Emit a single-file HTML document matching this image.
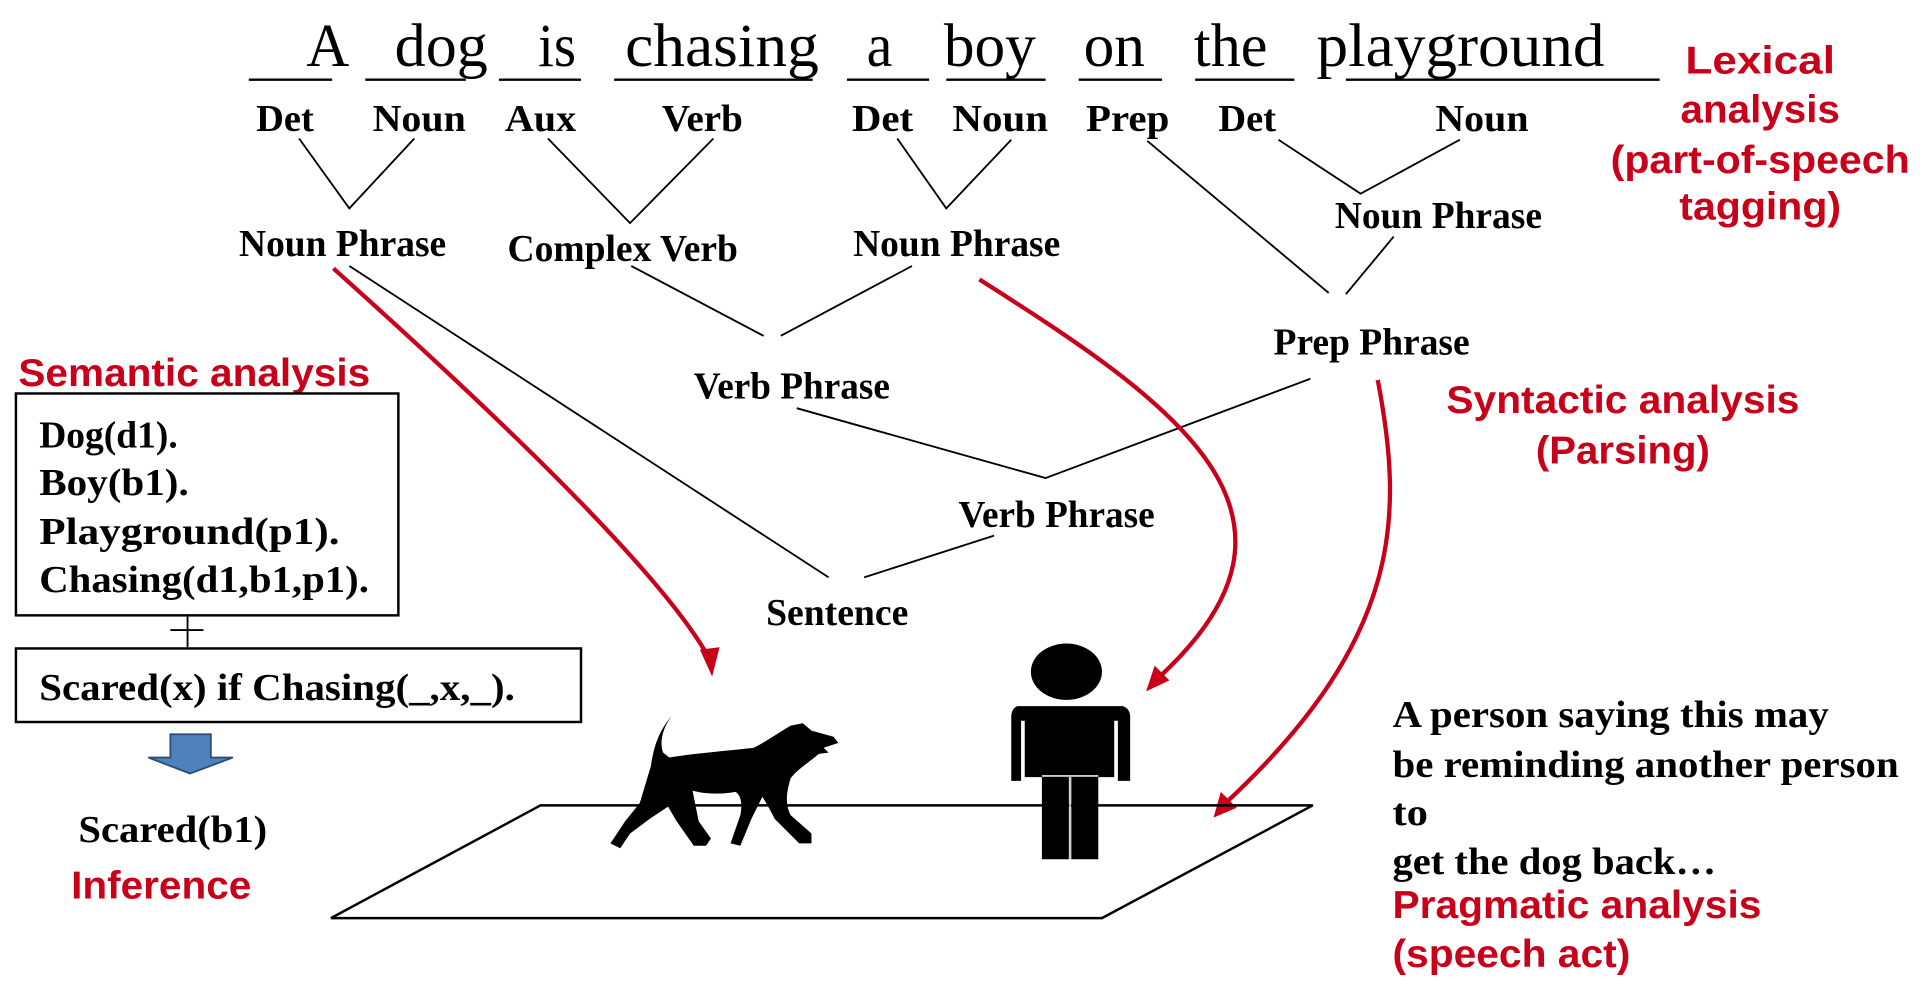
<!DOCTYPE html>
<html><head><meta charset="utf-8"><style>
html,body{margin:0;padding:0;background:#fff;}
svg{display:block;}
.w{font-family:"Liberation Serif",serif;font-size:50px;fill:#000;}
.t{font-family:"Liberation Serif",serif;font-size:31px;font-weight:bold;fill:#000;}
.r{font-family:"Liberation Sans",sans-serif;font-size:32px;font-weight:bold;fill:#c8001a;}
</style></head><body>
<svg width="1922" height="988" viewBox="0 0 1568 806" preserveAspectRatio="none" xmlns="http://www.w3.org/2000/svg">
<rect width="1568" height="806" fill="#fff"/>
<g class="w">
<text x="250" y="54" textLength="35" lengthAdjust="spacingAndGlyphs">A</text>
<text x="322" y="54" textLength="76" lengthAdjust="spacingAndGlyphs">dog</text>
<text x="439" y="54" textLength="31" lengthAdjust="spacingAndGlyphs">is</text>
<text x="510" y="54" textLength="158" lengthAdjust="spacingAndGlyphs">chasing</text>
<text x="707" y="54" textLength="21" lengthAdjust="spacingAndGlyphs">a</text>
<text x="770" y="54" textLength="75" lengthAdjust="spacingAndGlyphs">boy</text>
<text x="884" y="54" textLength="50" lengthAdjust="spacingAndGlyphs">on</text>
<text x="974" y="54" textLength="60" lengthAdjust="spacingAndGlyphs">the</text>
<text x="1074" y="54" textLength="235" lengthAdjust="spacingAndGlyphs">playground</text>
</g>
<g stroke="#000" stroke-width="2">
<line x1="203" y1="65" x2="271" y2="65"/><line x1="298" y1="65" x2="380" y2="65"/>
<line x1="407" y1="65" x2="474" y2="65"/><line x1="501" y1="65" x2="663" y2="65"/>
<line x1="691" y1="65" x2="758" y2="65"/><line x1="772" y1="65" x2="853" y2="65"/>
<line x1="880" y1="65" x2="948" y2="65"/><line x1="975" y1="65" x2="1056" y2="65"/>
<line x1="1098" y1="65" x2="1354" y2="65"/>
</g>
<g class="t">
<text x="209" y="107" textLength="47" lengthAdjust="spacingAndGlyphs">Det</text><text x="304" y="107" textLength="76" lengthAdjust="spacingAndGlyphs">Noun</text>
<text x="412" y="107" textLength="58" lengthAdjust="spacingAndGlyphs">Aux</text><text x="540" y="107" textLength="66" lengthAdjust="spacingAndGlyphs">Verb</text>
<text x="695" y="107" textLength="50" lengthAdjust="spacingAndGlyphs">Det</text><text x="777" y="107" textLength="78" lengthAdjust="spacingAndGlyphs">Noun</text>
<text x="886" y="107" textLength="68" lengthAdjust="spacingAndGlyphs">Prep</text><text x="994" y="107" textLength="47" lengthAdjust="spacingAndGlyphs">Det</text>
<text x="1171" y="107" textLength="76" lengthAdjust="spacingAndGlyphs">Noun</text>
<text x="195" y="209" textLength="169" lengthAdjust="spacingAndGlyphs">Noun Phrase</text>
<text x="414" y="213" textLength="188" lengthAdjust="spacingAndGlyphs">Complex Verb</text>
<text x="696" y="209" textLength="169" lengthAdjust="spacingAndGlyphs">Noun Phrase</text>
<text x="1089" y="186" textLength="169" lengthAdjust="spacingAndGlyphs">Noun Phrase</text>
<text x="1039" y="289" textLength="160" lengthAdjust="spacingAndGlyphs">Prep Phrase</text>
<text x="566" y="325" textLength="160" lengthAdjust="spacingAndGlyphs">Verb Phrase</text>
<text x="782" y="430" textLength="160" lengthAdjust="spacingAndGlyphs">Verb Phrase</text>
<text x="625" y="510" textLength="116" lengthAdjust="spacingAndGlyphs">Sentence</text>
</g>
<g stroke="#000" stroke-width="1.5" fill="none">
<polyline points="244,113 285,170 338,113"/>
<polyline points="447,113 514,182 582,113"/>
<polyline points="732,113 772,170 825,114"/>
<line x1="936" y1="115" x2="1084" y2="239"/>
<polyline points="1043,114 1110,158 1191,114"/>
<line x1="1137" y1="193" x2="1098" y2="240"/>
<line x1="515" y1="217" x2="623" y2="274"/>
<line x1="744" y1="217" x2="637" y2="274"/>
<polyline points="650,333 853,390 1069,309"/>
<line x1="285" y1="217" x2="676" y2="471"/>
<line x1="811" y1="437" x2="705" y2="471"/>
</g>
<g stroke="#c8001a" stroke-width="3.5" fill="none">
<path d="M272,219 Q530,450 578,536"/>
<path d="M799,228 C960,330 1090,420 945,553"/>
<path d="M1124,310 C1145,420 1145,520 1000,655"/>
</g>
<g fill="#c8001a">
<polygon points="581,552 571,530 587,528"/>
<polygon points="935,564 942,543 954,555"/>
<polygon points="990,667 996,646 1009,659"/>
</g>
<g class="r" text-anchor="middle">
<text x="1436" y="60" textLength="122" lengthAdjust="spacingAndGlyphs">Lexical</text>
<text x="1436" y="100" textLength="130" lengthAdjust="spacingAndGlyphs">analysis</text>
<text x="1436" y="141" textLength="244" lengthAdjust="spacingAndGlyphs">(part-of-speech</text>
<text x="1436" y="179" textLength="132" lengthAdjust="spacingAndGlyphs">tagging)</text>
<text x="1324" y="337" textLength="288" lengthAdjust="spacingAndGlyphs">Syntactic analysis</text>
<text x="1324" y="378" textLength="142" lengthAdjust="spacingAndGlyphs">(Parsing)</text>
</g>
<text class="r" x="15" y="315" textLength="287" lengthAdjust="spacingAndGlyphs">Semantic analysis</text>
<text class="r" x="58" y="733" textLength="147" lengthAdjust="spacingAndGlyphs">Inference</text>
<text class="r" x="1136" y="749" textLength="301" lengthAdjust="spacingAndGlyphs">Pragmatic analysis</text>
<text class="r" x="1136" y="789" textLength="194" lengthAdjust="spacingAndGlyphs">(speech act)</text>
<rect x="13" y="321" width="312" height="181" fill="none" stroke="#000" stroke-width="2"/>
<g class="t">
<text x="32" y="365" textLength="113" lengthAdjust="spacingAndGlyphs">Dog(d1).</text>
<text x="32" y="404" textLength="122" lengthAdjust="spacingAndGlyphs">Boy(b1).</text>
<text x="32" y="444" textLength="245" lengthAdjust="spacingAndGlyphs">Playground(p1).</text>
<text x="32" y="483" textLength="269" lengthAdjust="spacingAndGlyphs">Chasing(d1,b1,p1).</text>
<text x="32" y="571" textLength="388" lengthAdjust="spacingAndGlyphs">Scared(x) if Chasing(_,x,_).</text>
<text x="64" y="687" textLength="154" lengthAdjust="spacingAndGlyphs">Scared(b1)</text>
<text x="1136" y="593" textLength="356" lengthAdjust="spacingAndGlyphs">A person saying this may</text>
<text x="1136" y="634" textLength="413" lengthAdjust="spacingAndGlyphs">be reminding another person</text>
<text x="1136" y="673" textLength="29" lengthAdjust="spacingAndGlyphs">to</text>
<text x="1136" y="713" textLength="264" lengthAdjust="spacingAndGlyphs">get the dog back…</text>
</g>
<g stroke="#000" stroke-width="1.5"><line x1="153" y1="501" x2="153" y2="528"/><line x1="139" y1="514" x2="166" y2="514"/></g>
<rect x="13" y="529" width="461" height="60" fill="none" stroke="#000" stroke-width="2"/>
<polygon points="139,599 172,599 172,618 190,618 155,631 121,618 139,618" fill="#4f81bd" stroke="#2c4d75" stroke-width="1.5"/>
<polygon points="441,657 1071,657 899,749 270,749" fill="none" stroke="#000" stroke-width="2"/>
<path fill="#000" d="M548,584 C540,595 538,606 541,614 L546,618 C570,614 600,612 615,610 C625,605 635,598 645,592 L655,590 L662,596 L680,601 L684,606 L672,610 L676,614 L668,615 C660,622 650,628 645,635 C642,645 640,655 645,665 L662,680 L662,688 L652,688 L632,668 C628,660 625,655 622,650 L613,668 L604,690 L596,688 L604,665 C606,655 604,648 600,646 C590,648 575,648 565,645 L570,670 L580,684 L576,690 L566,690 L552,670 L545,658 L530,668 L514,680 L506,692 L498,688 L510,670 L522,655 C525,645 528,635 531,625 C533,612 536,598 548,584 Z"/>
<ellipse cx="870" cy="548" rx="29" ry="23" fill="#000"/>
<path fill="#000" d="M830,576 L916,576 Q922,578 922,585 L922,637 L912,637 L912,588 L909,588 L909,634 L896,634 L896,701 L874,701 L874,634 L872,634 L872,701 L850,701 L850,634 L836,634 L836,588 L833,588 L833,637 L825,637 L825,585 Q825,578 830,576 Z"/>
<line x1="873" y1="634" x2="873" y2="701" stroke="#ccc" stroke-width="1.5"/>
<line x1="850" y1="633" x2="896" y2="633" stroke="#ccc" stroke-width="1.5"/>
</svg>
</body></html>
